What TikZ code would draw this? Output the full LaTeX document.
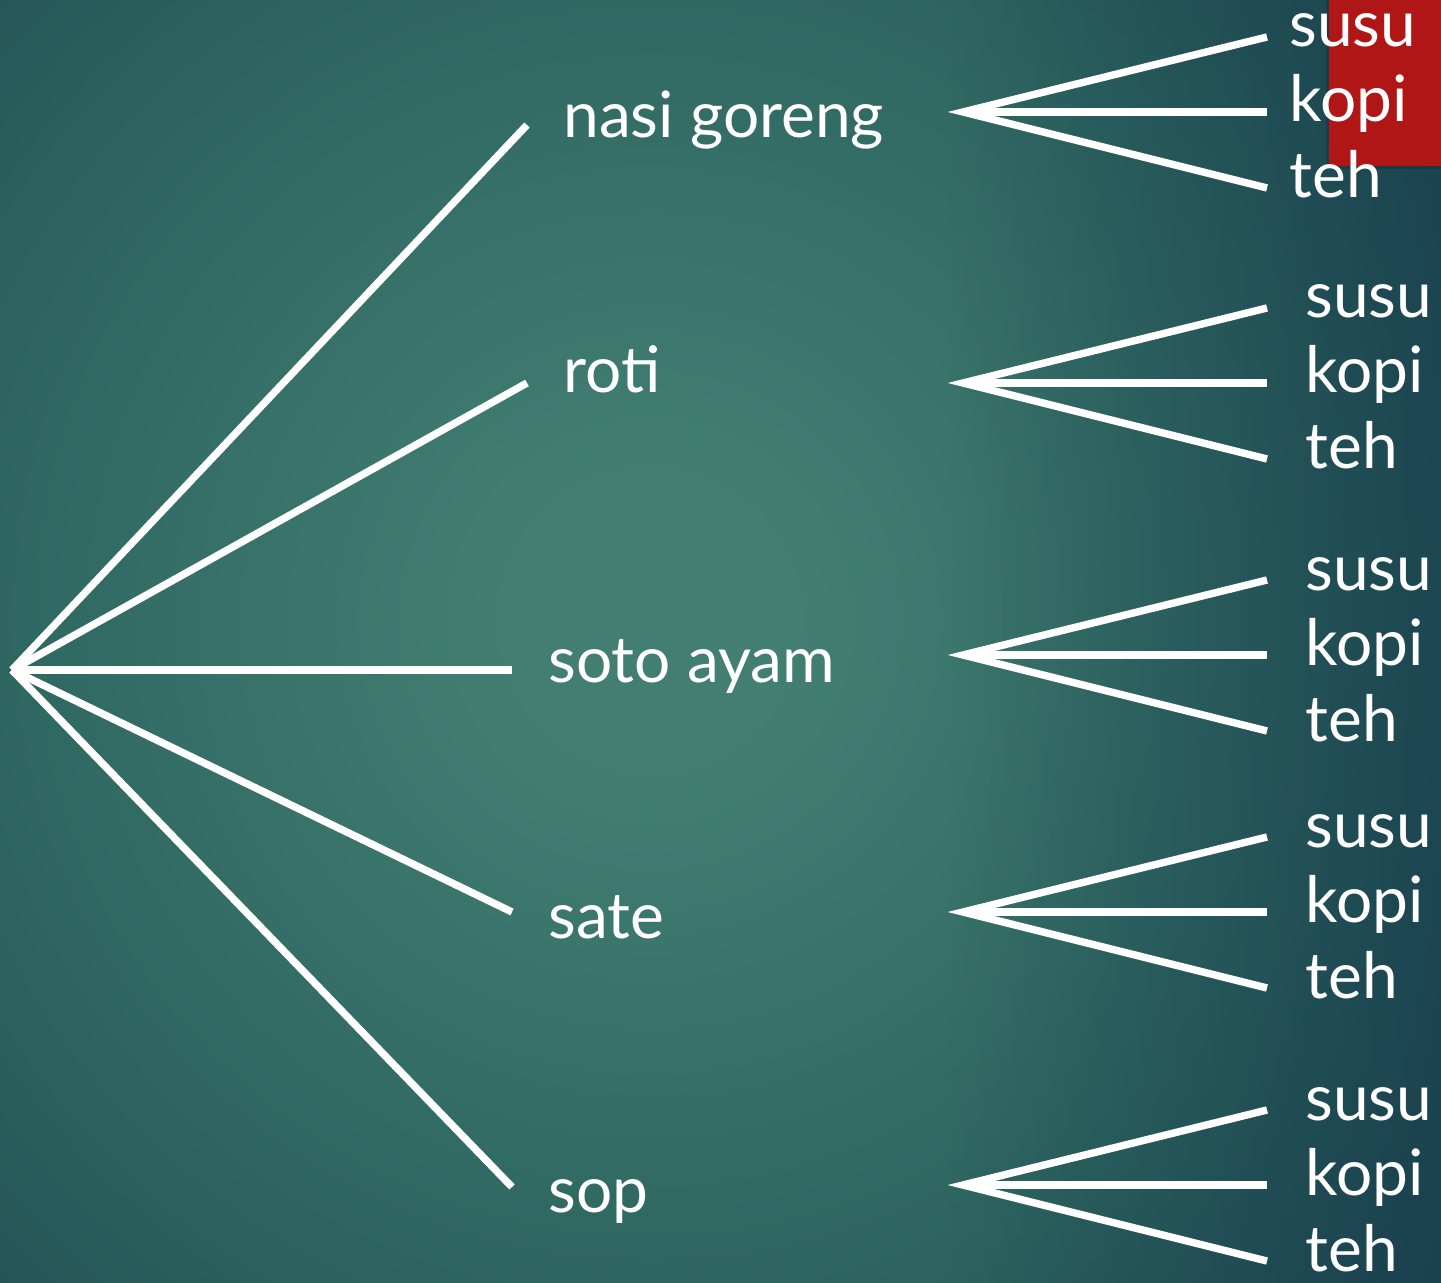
\documentclass[tikz,border=0pt]{standalone}
\usepackage{fontspec}
\usetikzlibrary{fadings}
\setmainfont{Lato}
\definecolor{bgin}{RGB}{66,127,114}
\definecolor{bgmid}{RGB}{44,99,95}
\definecolor{bgdark}{RGB}{30,72,80}
\definecolor{bgout}{RGB}{22,56,72}
\definecolor{bgblue}{RGB}{22,58,76}
\definecolor{redbox}{RGB}{176,22,22}
\pgfdeclareradialshading{bgshade}{\pgfpointorigin}{color(0bp)=(bgin); color(3.5bp)=(bgin); color(17.7bp)=(bgmid); color(28.3bp)=(bgdark); color(35.4bp)=(bgout); color(50bp)=(bgout)}
\tikzfading[name=rightdark, left color=transparent!100, right color=transparent!35]
\tikzset{
  branch/.style={draw=white, line width=3.7pt},
  lbl/.style={text=white, font=\fontsize{32}{38}\selectfont, anchor=base west, inner sep=0pt},
}
\begin{document}
\begin{tikzpicture}[x=0.5pt,y=-0.5pt]
  \useasboundingbox (0,0) rectangle (1441,1283);
  \shade[shading=bgshade] (-350,-380) rectangle (1650,1620);
  \fill[bgblue, path fading=rightdark] (950,0) rectangle (1441,1283);
  \fill[black, opacity=0.15] (1326,0) rectangle (1441,169);
  \fill[redbox] (1329,0) rectangle (1441,166);

  % root
  \coordinate (root) at (12,670);
  % first level ends
  \coordinate (e1) at (527,125);
  \coordinate (e2) at (527,383);
  \coordinate (e3) at (512,670);
  \coordinate (e4) at (512,912);
  \coordinate (e5) at (512,1187);
  \node[lbl] (nasi) at (563,138) {nasi goreng};
  \node[lbl] (roti) at (563,393) {roti};
  \node[lbl] (soto) at (548,682) {soto ayam};
  \node[lbl] (sate) at (548,938) {sate};
  \node[lbl] (sop)  at (548,1212) {sop};
  \foreach \e in {e1,e2,e3,e4,e5} \draw[branch] (root) -- (\e);

  % second level fans
  \foreach \i/\y/\tx in {1/112/1289, 2/383/1305, 3/655/1305, 4/912/1305, 5/1185/1305} {
    \coordinate (f\i) at (963,\y);
    \coordinate (f\i a) at (1267,\y-75);
    \coordinate (f\i b) at (1267,\y);
    \coordinate (f\i c) at (1267,\y+76);
    \draw[branch] (f\i a) -- (f\i) -- (f\i c);
    \draw[branch] (f\i) -- (f\i b);
    \node[lbl] (susu\i) at (\tx,\y-65) {susu};
    \node[lbl] (kopi\i) at (\tx,\y+10) {kopi};
    \node[lbl] (teh\i)  at (\tx,\y+86) {teh};
  }
\end{tikzpicture}
\end{document}
